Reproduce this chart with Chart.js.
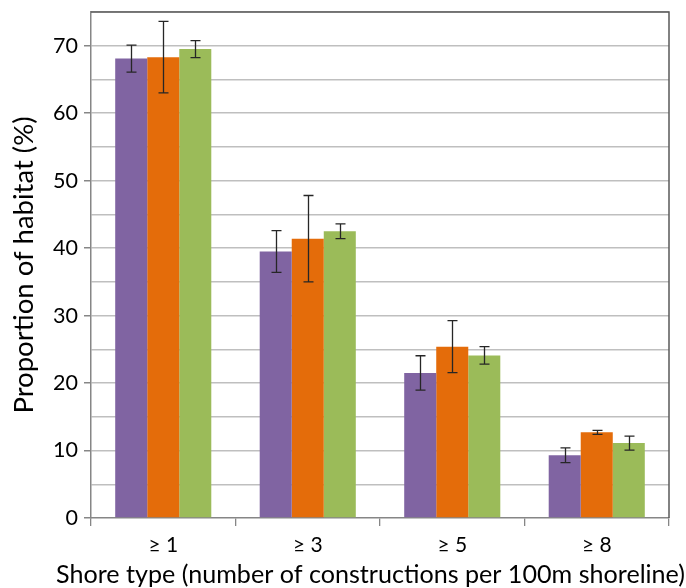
<!DOCTYPE html>
<html>
<head>
<meta charset="utf-8">
<script src="https://cdn.jsdelivr.net/npm/chart.js@4.4.1/dist/chart.umd.min.js"></script>
<style>
  html, body { margin: 0; padding: 0; background: #fff; }
  #wrap { width: 686px; height: 588px; position: relative; }
</style>
</head>
<body>
<div id="wrap"><canvas id="chart"></canvas></div>
<script>
// shore classes on the x axis
const categories = ['\u2265 1', '\u2265 3', '\u2265 5', '\u2265 8'];

// mean proportion of habitat (%) per series
const purpleMeans = [68.1, 39.5, 21.5, 9.3];
const orangeMeans = [68.3, 41.4, 25.4, 12.7];
const greenMeans  = [69.5, 42.5, 24.1, 11.1];

// half-length of the error bars (%)
const purpleErr = [2.0, 3.1, 2.55, 1.1];
const orangeErr = [5.3, 6.4, 3.85, 0.3];
const greenErr  = [1.25, 1.1, 1.3, 1.05];

const yTicks = [0, 10, 20, 30, 40, 50, 60, 70];

const xTitle = 'Shore type (number of constructions per 100m shoreline)';

const FONT = 'Lato, "Open Sans", sans-serif';

// draws +/- error whiskers on top of each bar
const errorBars = {
    id: 'errorBars',
    afterDatasetsDraw: function (chart) {
        const ctx = chart.ctx;
        const y = chart.scales.y;
        ctx.save();
        ctx.strokeStyle = '#262626';
        ctx.lineWidth = 1.3;
        chart.data.datasets.forEach(function (ds, i) {
            const meta = chart.getDatasetMeta(i);
            meta.data.forEach(function (bar, j) {
                const v = ds.data[j], e = ds.errors[j];
                const x = Math.round(bar.x) + 0.5;
                const top = y.getPixelForValue(v + e);
                const bot = y.getPixelForValue(v - e);
                ctx.beginPath();
                ctx.moveTo(x, top); ctx.lineTo(x, bot);
                ctx.moveTo(x - 5, top); ctx.lineTo(x + 5, top);
                ctx.moveTo(x - 5, bot); ctx.lineTo(x + 5, bot);
                ctx.stroke();
            });
        });
        ctx.restore();
    }
};

// top and right edges of the plot frame, plus the x axis title
// (the title is wider than the plot, so it spans x 56..685 instead)
const frame = {
    id: 'frame',
    afterDraw: function (chart) {
        const a = chart.chartArea;
        const ctx = chart.ctx;
        ctx.save();
        ctx.strokeStyle = '#595959';
        ctx.lineWidth = 1.5;
        ctx.beginPath();
        ctx.moveTo(a.left, a.top);
        ctx.lineTo(a.right, a.top);
        ctx.lineTo(a.right, a.bottom);
        ctx.stroke();

        ctx.fillStyle = '#000';
        ctx.font = '20px ' + FONT;
        const size = 20 * 629 / ctx.measureText(xTitle).width;
        ctx.font = size.toFixed(2) + 'px ' + FONT;
        ctx.textAlign = 'center';
        ctx.textBaseline = 'alphabetic';
        ctx.fillText(xTitle, 370.5, 583);
        ctx.restore();
    }
};

new Chart(document.getElementById('chart'), {
    type: 'bar',
    data: {
        labels: categories,
        datasets: [
            { data: purpleMeans, errors: purpleErr, backgroundColor: '#8064A2' },
            { data: orangeMeans, errors: orangeErr, backgroundColor: '#E46C0A' },
            { data: greenMeans,  errors: greenErr,  backgroundColor: '#9BBB59' }
        ]
    },
    options: {
        responsive: true,
        maintainAspectRatio: false,
        animation: false,
        layout: { padding: { left: 0, top: 12, right: 17, bottom: 0 } },
        datasets: { bar: { categoryPercentage: 0.665, barPercentage: 1.0, borderWidth: 0 } },
        plugins: {
            legend: { display: false },
            tooltip: { enabled: false }
        },
        scales: {
            x: {
                grid: {
                    offset: true,
                    drawOnChartArea: false,
                    tickLength: 8,
                    color: '#868686',
                    lineWidth: 1.3
                },
                border: { color: '#868686', width: 1.5 },
                ticks: { color: '#000', font: { family: FONT, size: 21 }, padding: 7 },
                afterFit: function (s) { s.height = 70; s.paddingLeft = 0; s.paddingRight = 0; }
            },
            y: {
                min: 0,
                max: 75,
                ticks: {
                    stepSize: 5,
                    color: '#000',
                    font: { family: FONT, size: 21.5 },
                    padding: 6,
                    callback: function (v) { return yTicks.indexOf(v) >= 0 ? v : ''; }
                },
                grid: {
                    color: function (c) { return c.tick && c.tick.value === 0 ? 'rgba(0,0,0,0)' : '#BFBFBF'; },
                    lineWidth: 1.5,
                    tickLength: 7,
                    tickColor: function (c) { return c.tick && yTicks.indexOf(c.tick.value) >= 0 ? '#868686' : 'rgba(0,0,0,0)'; }
                },
                border: { color: '#868686', width: 1.5 },
                title: {
                    display: true,
                    text: 'Proportion of habitat (%)',
                    color: '#000',
                    font: { family: FONT, size: 27.5 },
                    padding: { top: 8, bottom: 0 }
                },
                // the empty top label at 75 should not push the plot down
                afterFit: function (s) { s.width = 91; s.paddingTop = 0; s.paddingBottom = 0; }
            }
        }
    },
    plugins: [errorBars, frame]
});
</script>
</body>
</html>
